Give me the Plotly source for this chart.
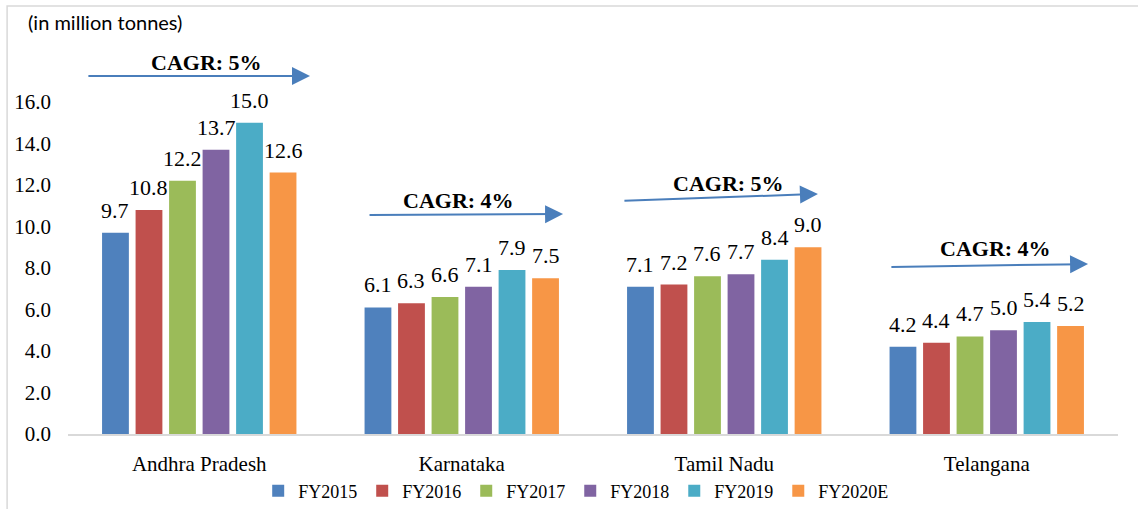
import plotly.graph_objects as go

# Production by state, FY2015 - FY2020E (million tonnes)
states = ["Andhra Pradesh", "Karnataka", "Tamil Nadu", "Telangana"]
years = ["FY2015", "FY2016", "FY2017", "FY2018", "FY2019", "FY2020E"]
fy2015 = [9.7, 6.1, 7.1, 4.2]
fy2016 = [10.8, 6.3, 7.2, 4.4]
fy2017 = [12.2, 6.6, 7.6, 4.7]
fy2018 = [13.7, 7.1, 7.7, 5.0]
fy2019 = [15.0, 7.9, 8.4, 5.4]
fy2020e = [12.6, 7.5, 9.0, 5.2]
cagr = [5, 4, 5, 4]  # percent, per state
y_ticks = [0, 2, 4, 6, 8, 10, 12, 14, 16]

series = [fy2015, fy2016, fy2017, fy2018, fy2019, fy2020e]
colors = ["#4F81BD", "#C0504D", "#9BBB59", "#8064A2", "#4BACC6", "#F79646"]

serif = "Liberation Serif, Times New Roman, serif"
bargap = 0.234
bargroupgap = 0.2

fig = go.Figure()
for name, vals, col in zip(years, series, colors):
    fig.add_trace(go.Bar(name=name, x=states, y=vals, marker_color=col,
                         marker_line_width=0))

annotations = []

# value labels above each bar, placed at the centre of its slot in the group
n = len(series)
group_w = 1 - bargap
slot = group_w / n
for k, vals in enumerate(series):
    off = -group_w / 2 + (k + 0.5) * slot
    for i, v in enumerate(vals):
        annotations.append(dict(x=i + off, y=v, xref="x", yref="y",
                                text=f"{v:.1f}", showarrow=False,
                                yanchor="bottom", yshift=8,
                                font=dict(family=serif, size=22, color="#000")))

# CAGR arrows: (tail x, tail y, tip x, tip y, label x, label y) in axis units
arrow_pos = [
    (-0.428, 17.25, 0.422, 17.25, 0.026, 17.88),
    (0.643, 10.55, 1.386, 10.60, 0.986, 11.23),
    (1.614, 11.24, 2.357, 11.57, 2.018, 12.05),
    (2.631, 8.05, 3.386, 8.19, 3.035, 8.96),
]
for rate, (tx, ty, hx, hy, lx, ly) in zip(cagr, arrow_pos):
    annotations.append(dict(x=hx, y=hy, ax=tx, ay=ty, xref="x", yref="y",
                            axref="x", ayref="y", text="", showarrow=True,
                            arrowhead=2, arrowsize=1.8, arrowwidth=2,
                            arrowcolor="#4A7EBB", standoff=0, startstandoff=0))
    annotations.append(dict(x=lx, y=ly, xref="x", yref="y",
                            text=f"<b>CAGR: {rate}%</b>", showarrow=False,
                            font=dict(family=serif, size=22, color="#000")))

annotations.append(dict(x=-0.04, y=0.9717, xref="paper", yref="paper",
                        xanchor="left", yanchor="middle", showarrow=False,
                        text="(in million tonnes)",
                        font=dict(family="Lato, sans-serif", size=20, color="#000")))

fig.update_layout(
    width=1138, height=509,
    margin=dict(l=68, r=20, t=10, b=75, autoexpand=False),
    paper_bgcolor="white", plot_bgcolor="white",
    barmode="group", bargap=bargap, bargroupgap=bargroupgap,
    font=dict(family=serif, color="#000"),
    showlegend=True,
    legend=dict(orientation="h", x=0.484, xanchor="center", y=-0.1344,
                yanchor="middle", font=dict(family=serif, size=18, color="#000"),
                itemwidth=30, traceorder="normal"),
    annotations=annotations,
    shapes=[dict(type="rect", xref="paper", yref="paper",
                 x0=-0.058, x1=1.2, y0=-0.4, y1=1.0094,
                 line=dict(color="#D9D9D9", width=1.5), layer="below")],
)
fig.update_xaxes(showline=True, linecolor="#D9D9D9", linewidth=2,
                 showgrid=False, ticks="", ticklabelstandoff=10,
                 tickfont=dict(family=serif, size=21, color="#000"))
fig.update_yaxes(range=[0, 424 / 20.75], tickvals=y_ticks, tickformat=".1f",
                 showline=False, showgrid=False, zeroline=False, ticks="",
                 ticklabelstandoff=16,
                 tickfont=dict(family=serif, size=21, color="#000"))

fig.write_html("out.html")
